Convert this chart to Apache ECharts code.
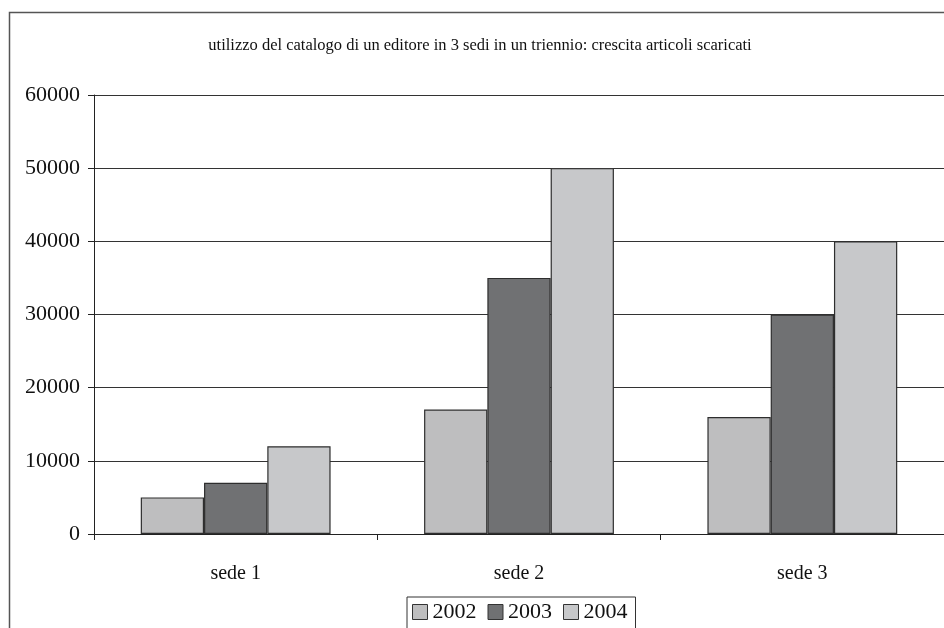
<!DOCTYPE html>
<html>
<head>
<meta charset="utf-8">
<script src="https://cdn.jsdelivr.net/npm/echarts@6/dist/echarts.min.js"></script>
<style>
html,body{margin:0;padding:0;background:#fff;}
#c{width:944px;height:628px;}
</style>
</head>
<body>
<div id="c"></div>
<script>
const categories = ['sede 1', 'sede 2', 'sede 3'];
const seriesNames = ['2002', '2003', '2004'];
const values2002 = [5000, 17000, 16000];
const values2003 = [7000, 35000, 30000];
const values2004 = [12000, 50000, 40000];
const yTicks = { min: 0, max: 60000, interval: 10000 };
const titleText = 'utilizzo del catalogo di un editore in 3 sedi in un triennio: crescita articoli scaricati';

const colors = ['#bebebf', '#707173', '#c7c8ca'];
const FONT = '"Liberation Serif", "DejaVu Serif", serif';

const chart = echarts.init(document.getElementById('c'), null, { renderer: 'canvas' });
const mk = (name, data, color) => ({
  name, type: 'bar', data,
  barCategoryGap: '33%', barGap: '0%',
  itemStyle: { color, borderColor: '#2e2e2e', borderWidth: 1.2 },
  emphasis: { disabled: true },
  animation: false
});
chart.setOption({
  animation: false,
  backgroundColor: '#fff',
  textStyle: { fontFamily: FONT },
  graphic: [{
    type: 'rect', z: -1,
    shape: { x: 9.5, y: 12.5, width: 960, height: 640 },
    style: { fill: null, stroke: '#555', lineWidth: 1.5 }
  }],
  title: {
    text: titleText, left: 475, textAlign: 'center', top: 32,
    textStyle: { fontFamily: FONT, fontSize: 16.5, fontWeight: 'normal', color: '#111' }
  },
  legend: {
    left: 407, top: 597,
    data: seriesNames,
    itemWidth: 15, itemHeight: 15, itemGap: 11,
    icon: 'rect',
    borderColor: '#333', borderWidth: 1,
    padding: [4, 8, 12, 5],
    textStyle: { fontFamily: FONT, fontSize: 22, color: '#111' },
    itemStyle: { borderColor: '#333', borderWidth: 1 }
  },
  grid: { left: 94, top: 95, width: 854, height: 439, containLabel: false },
  xAxis: {
    type: 'category', data: categories,
    axisLine: { lineStyle: { color: '#222', width: 1 } },
    axisTick: { show: true, length: 6, alignWithLabel: false, lineStyle: { color: '#222' } },
    axisLabel: { fontFamily: FONT, fontSize: 20, color: '#111', margin: 30 }
  },
  yAxis: {
    type: 'value', min: yTicks.min, max: yTicks.max, interval: yTicks.interval,
    axisLine: { show: true, lineStyle: { color: '#222', width: 1 } },
    axisTick: { show: true, length: 6, lineStyle: { color: '#222' } },
    axisLabel: { fontFamily: FONT, fontSize: 22, color: '#111', margin: 14, formatter: v => String(v) },
    splitLine: { show: true, lineStyle: { color: '#333', width: 1 } }
  },
  series: [
    mk(seriesNames[0], values2002, colors[0]),
    mk(seriesNames[1], values2003, colors[1]),
    mk(seriesNames[2], values2004, colors[2])
  ]
});
</script>
</body>
</html>
